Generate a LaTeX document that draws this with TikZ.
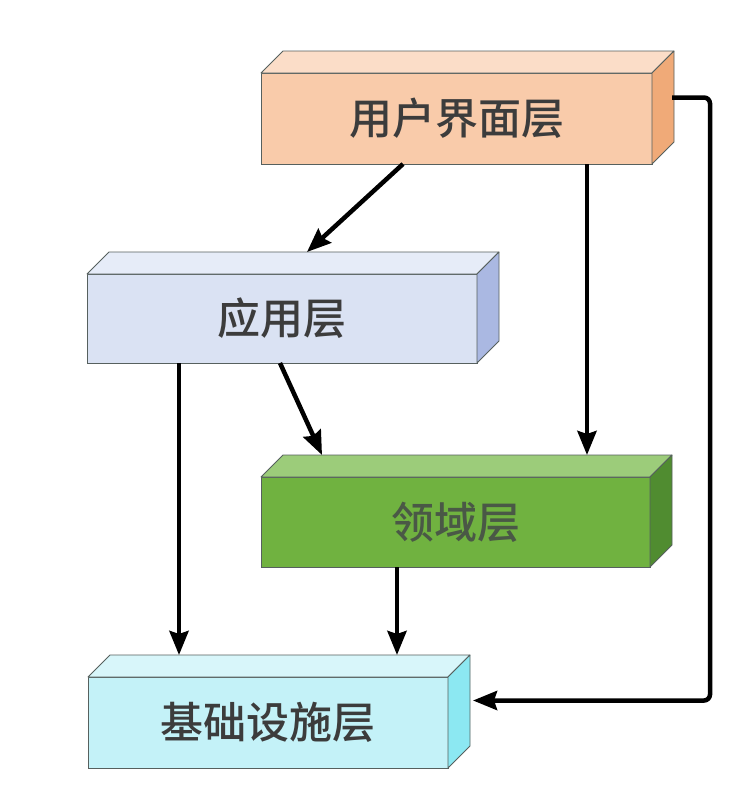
\documentclass[tikz,border=0pt]{standalone}
\usepackage{fontspec}
\newfontfamily\cjk{Noto Sans CJK SC Medium}
\usetikzlibrary{arrows.meta}
\definecolor{edgecol}{HTML}{56605E}
\definecolor{txtcol}{HTML}{3C3C3C}
\definecolor{uFront}{HTML}{F9CBAA}
\definecolor{uTop}{HTML}{FBDDC8}
\definecolor{uSide}{HTML}{F0AA78}
\definecolor{aFront}{HTML}{DAE2F3}
\definecolor{aTop}{HTML}{E6ECF8}
\definecolor{aSide}{HTML}{AAB8E2}
\definecolor{dFront}{HTML}{70B240}
\definecolor{dTop}{HTML}{9CCC7A}
\definecolor{dSide}{HTML}{508C30}
\definecolor{dText}{HTML}{4A5846}
\definecolor{iFront}{HTML}{C4F2F8}
\definecolor{iTop}{HTML}{D8F6FA}
\definecolor{iSide}{HTML}{8CE8F2}
\newcommand\layerfaces[3]{%
  \filldraw[fill=#2, draw=edgecol, line width=0.8pt, line join=round]
    (#1.north west) -- ([shift={(22,-22)}]#1.north west)
    -- ([shift={(22,-22)}]#1.north east) -- (#1.north east) -- cycle;
  \filldraw[fill=#3, draw=edgecol, line width=0.8pt, line join=round]
    (#1.north east) -- ([shift={(22,-22)}]#1.north east)
    -- ([shift={(22,-22)}]#1.south east) -- (#1.south east) -- cycle;
}
\begin{document}
\begin{tikzpicture}[x=1pt,y=-1pt,
  layer/.style={draw=edgecol, line width=0.8pt, inner sep=0pt, outer sep=0pt,
    font=\cjk\fontsize{43}{50}\selectfont, text=txtcol},
  link/.style={line width=4.5pt, draw=black, -{Stealth[length=24pt,width=19pt,inset=3pt]}}]
\fill[white] (0,0) rectangle (732,785);
\useasboundingbox (0,0) rectangle (732,785);

\node[layer, fill=uFront, minimum width=391pt, minimum height=91pt] (u) at (456.5,118.5) {用户界面层};
\layerfaces{u}{uTop}{uSide}
\node[layer, fill=aFront, minimum width=390pt, minimum height=89pt] (a) at (282,318.5) {应用层};
\layerfaces{a}{aTop}{aSide}
\node[layer, fill=dFront, minimum width=389pt, minimum height=90pt, text=dText] (d) at (455.5,522) {领域层};
\layerfaces{d}{dTop}{dSide}
\node[layer, fill=iFront, minimum width=360pt, minimum height=91pt] (i) at (268,722.5) {基础设施层};
\layerfaces{i}{iTop}{iSide}

\draw[link] ([xshift=-53.5pt]u.south) -- ([shift={(25,-22)}]a.north);
\draw[link] ([xshift=130.5pt]u.south) -- ([shift={(131.5,-22)}]d.north);
\draw[link, rounded corners=6pt] ([shift={(20,-21)}]u.east) -- ++(38,0) |- ([shift={(25,-22)}]i.east);
\draw[link] ([xshift=-103pt]a.south) -- ([shift={(-89,-22)}]i.north);
\draw[link] ([xshift=-2pt]a.south) -- ([shift={(-133.5,-22)}]d.north);
\draw[link] ([xshift=-58.5pt]d.south) -- ([shift={(129,-22)}]i.north);
\end{tikzpicture}
\end{document}
